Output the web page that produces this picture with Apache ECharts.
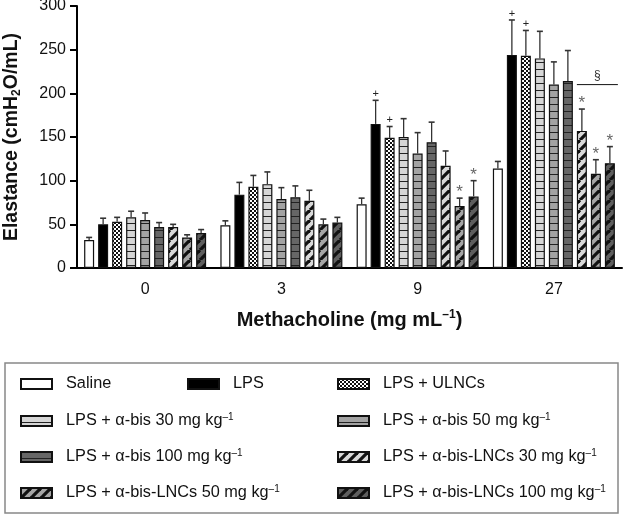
<!DOCTYPE html>
<html><head><meta charset="utf-8">
<script src="https://cdn.jsdelivr.net/npm/echarts@6/dist/echarts.min.js"></script>
<style>html,body{margin:0;padding:0;background:#fff}#c{width:625px;height:516px}</style>
</head><body><div id="c"></div>
<script>
// ---------- DATA ----------
const categories = ['0', '3', '9', '27'];
const seriesNames = [
  'Saline', 'LPS', 'LPS + ULNCs',
  'LPS + α-bis 30 mg kg⁻¹', 'LPS + α-bis 50 mg kg⁻¹', 'LPS + α-bis 100 mg kg⁻¹',
  'LPS + α-bis-LNCs 30 mg kg⁻¹', 'LPS + α-bis-LNCs 50 mg kg⁻¹', 'LPS + α-bis-LNCs 100 mg kg⁻¹'
];
const saline     = [32, 49, 73, 114];
const lps        = [50, 84, 165, 244];
const ulncs      = [53, 93, 149, 243];
const abis30     = [58, 96, 150, 240];
const abis50     = [55, 79, 131, 210];
const abis100    = [47, 81, 144, 214];
const lncs30     = [47, 77, 117, 157];
const lncs50     = [35, 50, 71, 108];
const lncs100    = [40, 52, 82, 120];

const salineErr  = [3, 5, 7, 8];
const lpsErr     = [7, 14, 27, 40];
const ulncsErr   = [5, 13, 13, 29];
const abis30Err  = [7, 14, 21, 31];
const abis50Err  = [8, 13, 24, 26];
const abis100Err = [5, 13, 23, 35];
const lncs30Err  = [3, 12, 17, 25];
const lncs50Err  = [3, 6, 9, 16];
const lncs100Err = [4, 6, 18, 19];

const salineMark  = ['', '', '', ''];
const lpsMark     = ['', '', '+', '+'];
const ulncsMark   = ['', '', '+', '+'];
const abis30Mark  = ['', '', '', ''];
const abis50Mark  = ['', '', '', ''];
const abis100Mark = ['', '', '', ''];
const lncs30Mark  = ['', '', '', '*'];
const lncs50Mark  = ['', '', '*', '*'];
const lncs100Mark = ['', '', '*', '*'];

// significance bracket (§) at Methacholine 27, spanning LNC groups
const sigCategory = '27';
const sigValue = 210;
const sigFrom = 6, sigTo = 8;
const sigLabel = '§';

const yMin = 0, yMax = 300, yInterval = 50;

// ---------- STYLE ----------
const FONT = "'Liberation Sans', Arial, sans-serif";
const BAR_W = 10, BAR_GAP = 0.4;
const values = [saline, lps, ulncs, abis30, abis50, abis100, lncs30, lncs50, lncs100];
const errs = [salineErr, lpsErr, ulncsErr, abis30Err, abis50Err, abis100Err, lncs30Err, lncs50Err, lncs100Err];
const marks = [salineMark, lpsMark, ulncsMark, abis30Mark, abis50Mark, abis100Mark, lncs30Mark, lncs50Mark, lncs100Mark];

function pattern(type, bg) {
  const c = document.createElement('canvas');
  const ctx = c.getContext('2d');
  if (type === 'solid') { c.width = 4; c.height = 4; ctx.fillStyle = bg; ctx.fillRect(0,0,4,4); }
  else if (type === 'check') {
    c.width = 4; c.height = 4; ctx.fillStyle = '#fff'; ctx.fillRect(0,0,4,4);
    ctx.fillStyle = '#111'; ctx.fillRect(0,0,2,2); ctx.fillRect(2,2,2,2);
  } else if (type === 'hline') {
    c.width = 4; c.height = 7; ctx.fillStyle = bg; ctx.fillRect(0,0,4,7);
    ctx.fillStyle = '#222'; ctx.fillRect(0,6,4,1);
  } else if (type === 'diag') {
    c.width = 10; c.height = 10; ctx.fillStyle = bg; ctx.fillRect(0,0,10,10);
    ctx.strokeStyle = '#111'; ctx.lineWidth = 3.2;
    for (const o of [-10, 0, 10]) { ctx.beginPath(); ctx.moveTo(o, 10); ctx.lineTo(o + 10, 0); ctx.stroke(); }
  }
  return { image: c, repeat: 'repeat' };
}
const fills = [
  pattern('solid', '#ffffff'), pattern('solid', '#000000'), pattern('check'),
  pattern('hline', '#d6d6d6'), pattern('hline', '#a3a3a3'), pattern('hline', '#666666'),
  pattern('diag', '#d9d9d9'), pattern('diag', '#a6a6a6'), pattern('diag', '#5e5e5e')
];

function barOffset(s) {
  const n = values.length, pitch = BAR_W * (1 + BAR_GAP);
  return (s - (n - 1) / 2) * pitch;
}

const errItems = [];
values.forEach((arr, s) => arr.forEach((v, i) => errItems.push({ s, cat: i, value: v, err: errs[s][i], mark: marks[s][i] })));

const barSeries = values.map((arr, s) => ({
  name: seriesNames[s], type: 'bar', data: arr,
  barWidth: BAR_W, barGap: (BAR_GAP * 100) + '%',
  itemStyle: { color: fills[s], borderColor: '#111', borderWidth: 1.2 },
  emphasis: { disabled: true }, animation: false
}));

const errSeries = {
  type: 'custom', name: 'err', z: 5, animation: false, silent: true,
  data: errItems.map(d => [d.cat, d.value + d.err]),
  renderItem: function (params, api) {
    const it = errItems[params.dataIndex];
    const base = api.coord([it.cat, it.value]);
    const top = api.coord([it.cat, it.value + it.err]);
    const x = base[0] + barOffset(it.s);
    const ch = [
      { type: 'line', shape: { x1: x, y1: base[1], x2: x, y2: top[1] }, style: { stroke: '#333', lineWidth: 1.3 } },
      { type: 'line', shape: { x1: x - 3, y1: top[1], x2: x + 3, y2: top[1] }, style: { stroke: '#333', lineWidth: 1.6 } }
    ];
    if (it.mark === '+') ch.push({ type: 'text', x: x, y: top[1] - 1, style: { text: '+', fill: '#222', fontSize: 11, fontFamily: FONT, align: 'center', verticalAlign: 'bottom' } });
    if (it.mark === '*') ch.push({ type: 'text', x: x, y: top[1] + 3, style: { text: '*', fill: '#666', fontSize: 17, fontFamily: FONT, align: 'center', verticalAlign: 'bottom' } });
    return { type: 'group', children: ch };
  }
};

const sigSeries = {
  type: 'custom', name: 'sig', z: 5, animation: false, silent: true,
  data: [[categories.indexOf(sigCategory), sigValue]],
  renderItem: function (params, api) {
    const p = api.coord([api.value(0), api.value(1)]);
    const x1 = p[0] + barOffset(sigFrom) - BAR_W / 2;
    const x2 = p[0] + barOffset(sigTo) + BAR_W / 2 + 3;
    return { type: 'group', children: [
      { type: 'line', shape: { x1: x1, y1: p[1], x2: x2, y2: p[1] }, style: { stroke: '#111', lineWidth: 1 } },
      { type: 'text', x: (x1 + x2) / 2, y: p[1] - 3, style: { text: sigLabel, fill: '#333', fontSize: 12, fontFamily: FONT, align: 'center', verticalAlign: 'bottom' } }
    ] };
  }
};

// legend layout: [left, rowCenter]
const legendPos = [
  [20, 385], [187, 385], [337, 385],
  [20, 421], [337, 421],
  [20, 457], [337, 457],
  [20, 493], [337, 493]
];
const legends = seriesNames.map((nm, i) => ({
  data: [nm], left: legendPos[i][0], top: legendPos[i][1] - 9, padding: 0,
  itemWidth: 31, itemHeight: 10, selectedMode: false, icon: 'rect',
  formatter: function (name) {
    if (name.indexOf('⁻¹') >= 0) return '{t|' + name.replace('⁻¹', '') + '}{s|–1}';
    return '{t|' + name + '}';
  },
  textStyle: { padding: [0, 0, 0, 9], rich: {
    t: { fontSize: 16.3, fontFamily: FONT, color: '#111', lineHeight: 18 },
    s: { fontSize: 10, fontFamily: FONT, color: '#111', lineHeight: 18, verticalAlign: 'top', padding: [0, 0, 7, 0] }
  } }
}));

const chart = echarts.init(document.getElementById('c'), null, { renderer: 'canvas' });
chart.setOption({
  animation: false,
  backgroundColor: '#fff',
  grid: { left: 77, right: 3, top: 6, bottom: 248, containLabel: false, outerBoundsMode: 'none' },
  legend: legends,
  xAxis: {
    type: 'category', data: categories,
    axisLine: { lineStyle: { color: '#000', width: 2 } },
    axisTick: { alignWithLabel: true, length: 7, lineStyle: { color: '#000', width: 2 } },
    axisLabel: { color: '#111', fontSize: 16, fontFamily: FONT, margin: 14 },
    name: '{b|Methacholine (mg mL}{s|–1}{b|)}', nameLocation: 'middle', nameGap: 41,
    nameTextStyle: { rich: {
      b: { fontSize: 20, fontWeight: 'bold', fontFamily: FONT, color: '#111', lineHeight: 22 },
      s: { fontSize: 12, fontWeight: 'bold', fontFamily: FONT, color: '#111', lineHeight: 22, verticalAlign: 'top', padding: [0, 0, 8, 0] }
    } }
  },
  yAxis: {
    type: 'value', min: yMin, max: yMax, interval: yInterval,
    splitLine: { show: false },
    axisLine: { show: true, lineStyle: { color: '#000', width: 2 } },
    axisTick: { show: true, length: 7, lineStyle: { color: '#000', width: 2 } },
    axisLabel: { color: '#111', fontSize: 16, fontFamily: FONT, margin: 11 },
    name: '{b|Elastance (cmH}{s|2}{b|O/mL)}', nameLocation: 'middle', nameGap: 54,
    nameTextStyle: { rich: {
      b: { fontSize: 19.5, fontWeight: 'bold', fontFamily: FONT, color: '#111', lineHeight: 22 },
      s: { fontSize: 12, fontWeight: 'bold', fontFamily: FONT, color: '#111', lineHeight: 22, verticalAlign: 'bottom', padding: [6, 0, 0, 0] }
    } }
  },
  graphic: [{ type: 'rect', shape: { x: 5, y: 363, width: 613, height: 150 }, style: { fill: 'none', stroke: '#888', lineWidth: 1.5 }, silent: true }],
  series: barSeries.concat([errSeries, sigSeries])
});
</script></body></html>
